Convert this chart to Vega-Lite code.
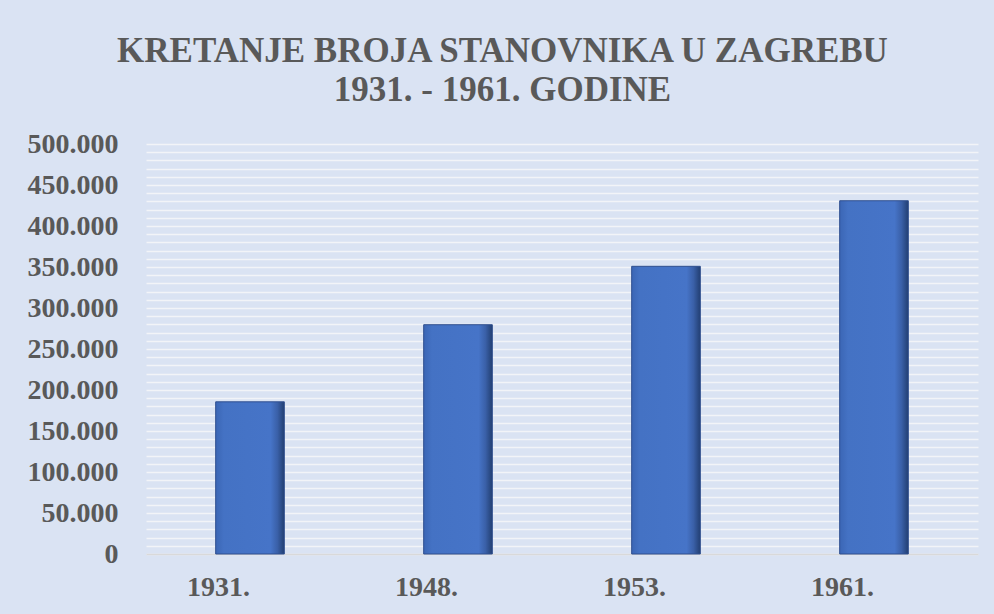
{
  "$schema": "https://vega.github.io/schema/vega-lite/v6.json",
  "autosize": "none",
  "width": 832,
  "height": 410,
  "padding": {"left": 146, "top": 144, "right": 16, "bottom": 60},
  "background": "#dae3f3",
  "title": {
    "text": ["KRETANJE BROJA STANOVNIKA U ZAGREBU", "1931. - 1961. GODINE"],
    "font": "Liberation Serif",
    "fontSize": 35,
    "fontWeight": "bold",
    "color": "#595959",
    "anchor": "middle",
    "frame": "bounds",
    "lineHeight": 39,
    "offset": 22
  },
  "config": {
    "locale": {"number": {"decimal": ",", "thousands": ".", "grouping": [3], "currency": ["", ""]}},
    "view": {"stroke": null},
    "title": {"font": "Liberation Serif"},
    "axis": {
      "labelFont": "Liberation Serif",
      "labelFontWeight": "bold",
      "labelFontSize": 28,
      "labelColor": "#595959",
      "title": null,
      "ticks": false
    }
  },
  "data": {
    "values": [
      {"godina": "1931.", "stanovnika": 185581},
      {"godina": "1948.", "stanovnika": 279623},
      {"godina": "1953.", "stanovnika": 350829},
      {"godina": "1961.", "stanovnika": 430802}
    ]
  },
  "layer": [
    {
      "mark": {"type": "bar", "opacity": 0},
      "encoding": {
        "x": {"field": "godina", "type": "nominal", "sort": null},
        "y": {
          "field": "stanovnika", "type": "quantitative",
          "scale": {"domain": [0, 500000]},
          "axis": {"orient": "right", "values": [0,10000,20000,30000,40000,50000,60000,70000,80000,90000,100000,110000,120000,130000,140000,150000,160000,170000,180000,190000,200000,210000,220000,230000,240000,250000,260000,270000,280000,290000,300000,310000,320000,330000,340000,350000,360000,370000,380000,390000,400000,410000,420000,430000,440000,450000,460000,470000,480000,490000,500000], "labels": false, "domain": false, "gridColor": "#f2f4f8", "gridWidth": 1.5}
        }
      }
    },
    {
      "mark": {
        "type": "bar",
        "stroke": "#2f4f8f",
        "strokeWidth": 1,
        "color": {
          "gradient": "linear", "x1": 0, "x2": 1, "y1": 0, "y2": 0,
          "stops": [
            {"offset": 0, "color": "#3b66b5"},
            {"offset": 0.12, "color": "#4472c4"},
            {"offset": 0.8, "color": "#4674c8"},
            {"offset": 0.9, "color": "#3a60a8"},
            {"offset": 1, "color": "#223f72"}
          ]
        }
      },
      "encoding": {
        "x": {
          "field": "godina", "type": "nominal", "sort": null,
          "scale": {"paddingInner": 0.67, "paddingOuter": 0.335},
          "axis": {"labelAngle": 0, "labelPadding": 33, "domainColor": "#d9d9d9", "domainWidth": 1.5}
        },
        "y": {
          "field": "stanovnika", "type": "quantitative",
          "axis": {"orient": "left", "values": [0,50000,100000,150000,200000,250000,300000,350000,400000,450000,500000], "format": ",d", "domain": false, "labelPadding": 28, "gridColor": "#d9d9d9", "gridWidth": 1.5}
        }
      }
    }
  ],
  "resolve": {"axis": {"y": "independent"}}
}
